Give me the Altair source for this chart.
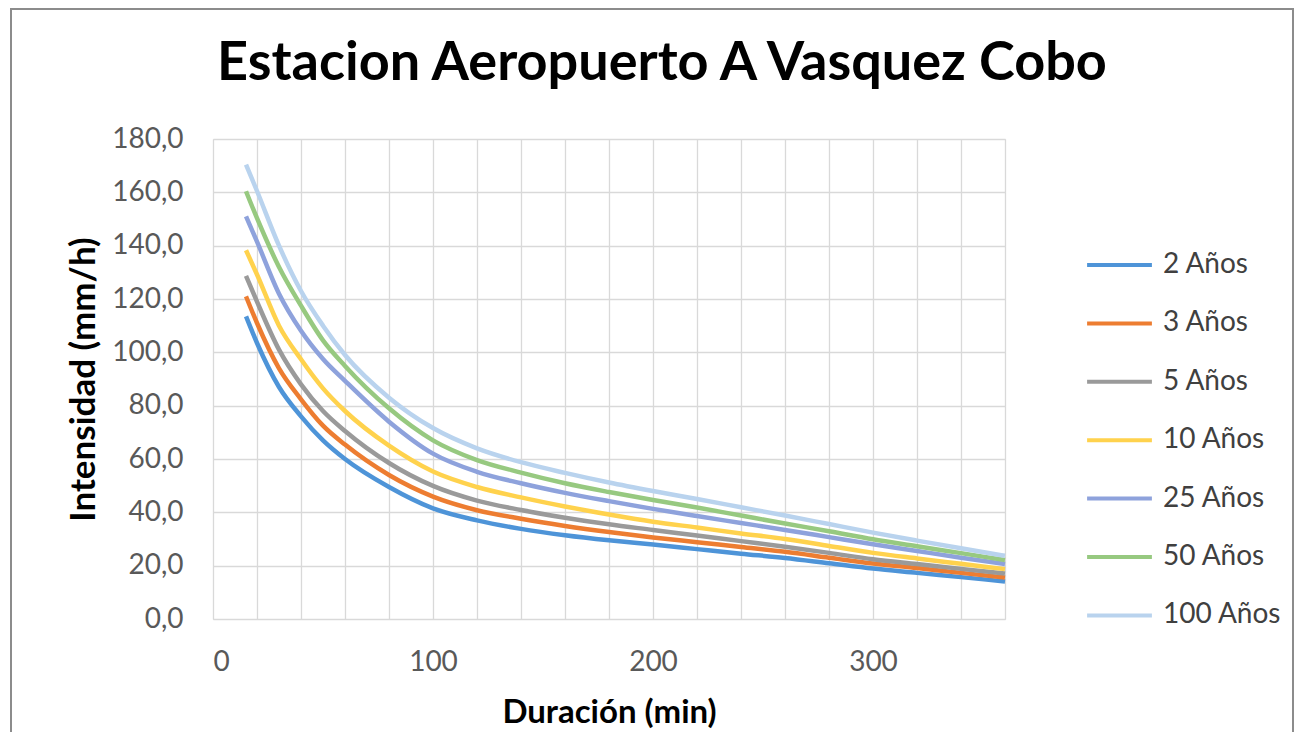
import altair as alt
import pandas as pd

duracion = [15, 20, 30, 40, 50, 60, 80, 100, 120, 140, 160, 180, 200, 220, 240, 260, 280, 300, 320, 340, 360]

series_names = ["2 Años", "3 Años", "5 Años", "10 Años", "25 Años", "50 Años", "100 Años"]

i_2 = [113.5, 103.5, 87.0, 76.0, 67.0, 60.0, 49.5, 41.5, 37.0, 33.8, 31.4, 29.5, 27.9, 26.2, 24.5, 22.9, 20.9, 18.9, 17.3, 15.7, 14.1]
i_3 = [121.0, 111.0, 94.0, 82.4, 72.5, 65.4, 54.0, 45.9, 40.8, 37.6, 34.9, 32.6, 30.6, 28.8, 27.0, 25.2, 23.0, 20.8, 19.1, 17.3, 15.6]
i_5 = [128.7, 119.0, 101.0, 88.0, 78.0, 70.5, 58.5, 49.9, 44.4, 40.9, 38.0, 35.5, 33.4, 31.3, 29.2, 27.1, 24.8, 22.4, 20.6, 18.8, 17.1]
i_10 = [138.3, 129.2, 110.0, 97.4, 86.5, 78.0, 65.0, 55.3, 49.5, 45.6, 42.2, 39.2, 36.5, 34.3, 32.1, 30.0, 27.4, 24.8, 22.7, 20.7, 18.7]
i_25 = [151.0, 141.5, 122.0, 108.1, 97.5, 89.3, 74.0, 62.0, 55.2, 50.9, 47.3, 44.2, 41.3, 38.6, 36.0, 33.4, 30.7, 28.0, 25.5, 23.0, 20.6]
i_50 = [160.4, 150.3, 132.0, 117.5, 104.5, 94.9, 79.0, 67.0, 59.6, 54.9, 50.9, 47.6, 44.6, 41.8, 38.8, 35.8, 32.9, 29.9, 27.3, 24.7, 22.1]
i_100 = [170.4, 160.5, 140.0, 123.0, 110.0, 99.0, 83.0, 71.6, 64.0, 58.8, 54.8, 51.2, 48.0, 45.0, 41.9, 38.8, 35.6, 32.4, 29.4, 26.5, 23.7]

colors = ["#4E94D8", "#ED7D31", "#9A9A9A", "#FFD24D", "#8EA2DC", "#97C980", "#B9D3EE"]

all_series = [i_2, i_3, i_5, i_10, i_25, i_50, i_100]
rows = []
for name, vals in zip(series_names, all_series):
    for d, v in zip(duracion, vals):
        rows.append({"Duracion": d, "Intensidad": v, "Serie": name})
df = pd.DataFrame(rows)

FONT = "Lato"
W, H = 792, 480
PAD_L, PAD_T = 205, 131
TOTAL_W, TOTAL_H = 1287, 724

grid_vals_x = list(range(0, 361, 20))
grid_vals_y = list(range(0, 181, 20))

lines = alt.Chart(df).mark_line(strokeWidth=4.5, interpolate="monotone").encode(
    x=alt.X("Duracion:Q",
            scale=alt.Scale(domain=[0, 360], nice=False, zero=False),
            axis=alt.Axis(values=grid_vals_x, title="Duración (min)",
                          labelExpr="datum.value % 100 == 0 ? datum.value : ''",
                          grid=True, gridColor="#D9D9D9", gridWidth=1.3,
                          domain=False, ticks=False, labelPadding=29,
                          labelFontSize=28, labelFont=FONT, labelColor="#595959",
                          titleFont=FONT, titleFontSize=33, titleFontWeight="bold",
                          titleColor="#000000", titleX=W / 2, titleY=93,
                          titleBaseline="middle", titleAlign="center")),
    y=alt.Y("Intensidad:Q",
            scale=alt.Scale(domain=[0, 180], nice=False),
            axis=alt.Axis(values=grid_vals_y, title="Intensidad (mm/h)",
                          labelExpr="replace(format(datum.value, '.1f'), '.', ',')",
                          grid=True, gridColor="#D9D9D9", gridWidth=1.3,
                          domain=False, ticks=False, labelPadding=30,
                          labelFontSize=28, labelFont=FONT, labelColor="#595959",
                          titleFont=FONT, titleFontSize=35, titleFontWeight="bold",
                          titleColor="#000000", titleX=-130, titleY=H / 2,
                          titleAngle=-90, titleBaseline="middle", titleAlign="center")),
    color=alt.Color("Serie:N",
                    scale=alt.Scale(domain=series_names, range=colors),
                    sort=series_names,
                    legend=alt.Legend(orient="none", legendX=872, legendY=115,
                                      title=None, symbolType="stroke",
                                      symbolSize=4200, symbolStrokeWidth=4,
                                      labelFontSize=28, labelFont=FONT,
                                      labelColor="#404040", labelOffset=9,
                                      clipHeight=22, rowPadding=30.4, padding=0)),
)

frame_df = pd.DataFrame({"k": [0]})
frame = alt.Chart(frame_df).mark_rect(fillOpacity=0, stroke="#8C8C8C", strokeWidth=2).encode(
    x=alt.value(-PAD_L + 3), x2=alt.value(TOTAL_W - PAD_L - 2),
    y=alt.value(-PAD_T + 1), y2=alt.value(TOTAL_H - PAD_T + 40),
)

chart = alt.layer(frame, lines).properties(
    width=W, height=H,
    title=alt.TitleParams("Estacion Aeropuerto A Vasquez Cobo", font=FONT, fontSize=54,
                          fontWeight="bold", color="#000000", anchor="middle", dx=53, dy=87),
    autosize=alt.AutoSizeParams(type="none"),
    padding={"left": PAD_L, "top": PAD_T, "right": TOTAL_W - PAD_L - W, "bottom": TOTAL_H - PAD_T - H},
).configure_view(stroke=None).configure(background="white")

chart.save("out.html", embed_options={"renderer": "svg", "actions": False})
